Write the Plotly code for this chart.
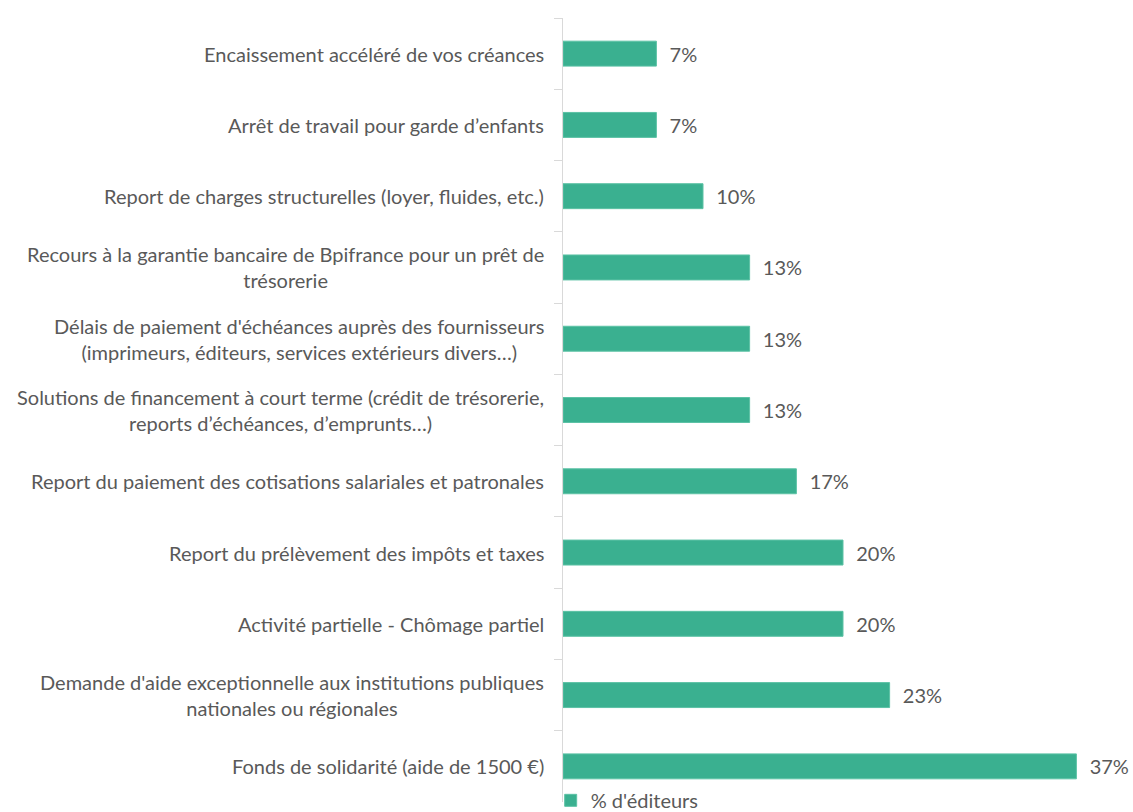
import plotly.graph_objects as go

# Data (top to bottom as displayed)
categories = [
    "Encaissement accéléré de vos créances",
    "Arrêt de travail pour garde d’enfants",
    "Report de charges structurelles (loyer, fluides, etc.)",
    "Recours à la garantie bancaire de Bpifrance pour un prêt de<br>trésorerie",
    "Délais de paiement d'échéances auprès des fournisseurs<br>(imprimeurs, éditeurs, services extérieurs divers…)",
    "Solutions de financement à court terme (crédit de trésorerie,<br>reports d’échéances, d’emprunts…)",
    "Report du paiement des cotisations salariales et patronales",
    "Report du prélèvement des impôts et taxes",
    "Activité partielle - Chômage partiel",
    "Demande d'aide exceptionnelle aux institutions publiques<br>nationales ou régionales",
    "Fonds de solidarité (aide de 1500 €)",
]
share = [6.67, 6.67, 10.0, 13.33, 13.33, 13.33, 16.67, 20.0, 20.0, 23.33, 36.67]
series_name = "% d'éditeurs"

BAR = "#3AB090"
TEXT = "#595959"
AXIS = "#D9D9D9"
FONT = "Lato, 'Open Sans', sans-serif"
SIZE = 20

fig = go.Figure()
fig.add_trace(
    go.Bar(
        x=share,
        y=categories,
        orientation="h",
        name=series_name,
        marker=dict(color=BAR, line=dict(color="#5CC2A5", width=1)),
        text=[f"\u00a0\u00a0{v:.0f}%" for v in share],
        textposition="outside",
        textfont=dict(size=SIZE, color=TEXT, family=FONT),
        cliponaxis=False,
        showlegend=True,
    )
)

# category labels, centred lines, right-aligned next to the axis
for cat in categories:
    fig.add_annotation(
        x=0, xref="paper", xanchor="right", xshift=-17,
        y=cat, yref="y",
        text=cat, align="center", showarrow=False,
        font=dict(size=SIZE, color=TEXT, family=FONT),
    )

fig.update_layout(
    width=1133,
    height=812,
    paper_bgcolor="white",
    plot_bgcolor="white",
    margin=dict(l=563, r=10, t=18, b=10, autoexpand=False),
    bargap=0.65,
    font=dict(family=FONT, color=TEXT),
    legend=dict(
        orientation="h", x=-0.022, xanchor="left",
        y=0.027, yanchor="top",
        font=dict(size=SIZE, color=TEXT, family=FONT),
        bgcolor="rgba(0,0,0,0)", itemwidth=30,
    ),
)
fig.update_xaxes(range=[0, 40], visible=False)
fig.update_yaxes(
    autorange="reversed",
    showticklabels=False,
    showline=True, linecolor=AXIS, linewidth=1,
    ticks="outside", tickson="boundaries", ticklen=8, tickcolor=AXIS,
    showgrid=False,
)

fig.write_html(
    "out.html",
    config={"displayModeBar": False},
    post_script="document.body.style.margin = '0';",
)
